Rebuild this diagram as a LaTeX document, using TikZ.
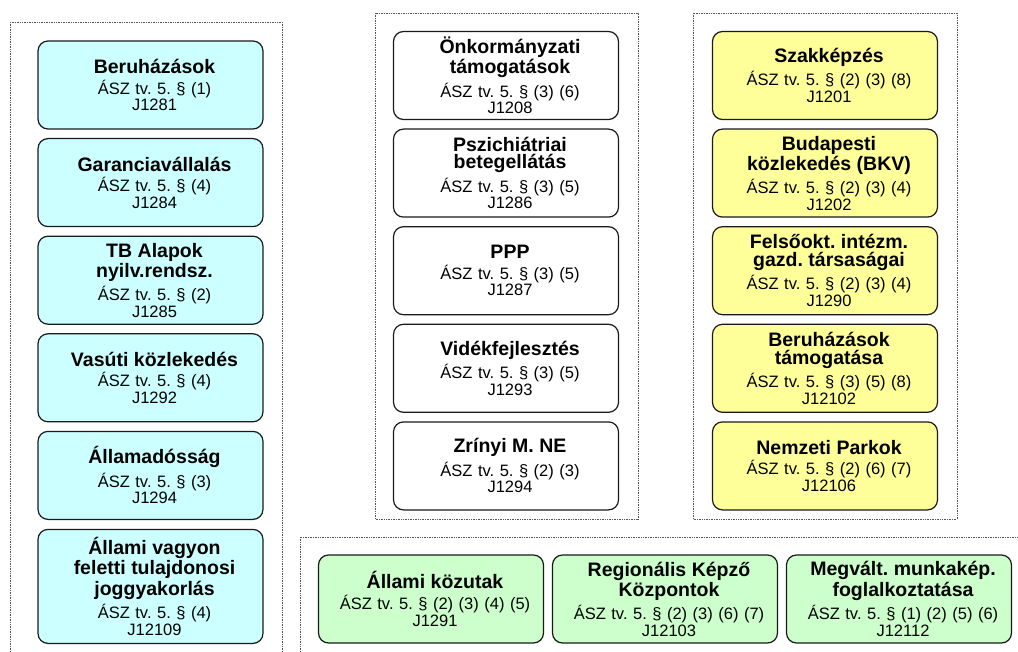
\documentclass[tikz,border=0pt]{standalone}
\usepackage{fontspec}
\setmainfont{Liberation Sans}
\usetikzlibrary{positioning}

\definecolor{cyanbox}{HTML}{CCFFFF}
\definecolor{yellowbox}{HTML}{FFFF99}
\definecolor{greenbox}{HTML}{CCFFCC}
\definecolor{frameline}{HTML}{1A1A1A}
\definecolor{dotline}{HTML}{555555}

\frenchspacing
\newcommand{\ttl}[1]{{\bfseries\fontsize{19.5}{19.5}\selectfont #1}}

\tikzset{
  entry/.style={draw=frameline, line width=1.2pt, rounded corners=10pt,
    minimum width=225pt, minimum height=88pt, text width=217pt,
    inner xsep=4pt, inner ysep=0pt, align=center,
    font=\fontsize{16.5}{16.7}\selectfont,
    execute at begin node={\leftskip=8pt plus 1fil\relax
      \rightskip=0pt plus 1fil\relax\parfillskip=0pt\relax}},
  group/.style={draw=dotline, densely dotted, line width=0.7pt},
}

\begin{document}
\begin{tikzpicture}[x=1pt, y=-1pt, node distance=97.6pt, on grid]
    \useasboundingbox (0,0) rectangle (1018,652);

    % dotted groups
    \draw[group] (10,22) rectangle (282,670);
    \draw[group] (375,13) rectangle (638,519);
    \draw[group] (693,13) rectangle (957,519);
    \draw[group] (300,537) rectangle (1040,670);

    % left column
    \node[entry, fill=cyanbox] (l1) at (150.5,85)
        {\ttl{Beruházások}\\[3.9pt] ÁSZ tv. 5. § (1)\\ J1281};
    \node[entry, fill=cyanbox, below=of l1] (l2)
        {\ttl{Garanciavállalás}\\[3.9pt] ÁSZ tv. 5. § (4)\\ J1284};
    \node[entry, fill=cyanbox, below=of l2] (l3)
        {\ttl{TB Alapok}\\[0.8pt] \ttl{nyilv.rendsz.}\\[3.9pt] ÁSZ tv. 5. § (2)\\ J1285};
    \node[entry, fill=cyanbox, below=of l3] (l4)
        {\ttl{Vasúti közlekedés}\\[3.9pt] ÁSZ tv. 5. § (4)\\ J1292};
    \node[entry, fill=cyanbox, below=of l4] (l5)
        {\ttl{Államadósság}\\[3.9pt] ÁSZ tv. 5. § (3)\\ J1294};
    \node[entry, fill=cyanbox, minimum height=114pt, below=111pt of l5] (l6)
        {\ttl{Állami vagyon}\\[0.8pt] \ttl{feletti tulajdonosi}\\[0.8pt] \ttl{joggyakorlás}\\[3.9pt] ÁSZ tv. 5. § (4)\\ J12109};

    % middle column
    \node[entry, fill=white] (m1) at (506,75.5)
        {\ttl{Önkormányzati}\\[0.8pt] \ttl{támogatások}\\[3.9pt] ÁSZ tv. 5. § (3) (6)\\ J1208};
    \node[entry, fill=white, below=of m1] (m2)
        {\ttl{Pszichiátriai}\\[0.8pt] \ttl{betegellátás}\\[3.9pt] ÁSZ tv. 5. § (3) (5)\\ J1286};
    \node[entry, fill=white, below=of m2] (m3)
        {\ttl{PPP}\\[3.9pt] ÁSZ tv. 5. § (3) (5)\\ J1287};
    \node[entry, fill=white, below=of m3] (m4)
        {\ttl{Vidékfejlesztés}\\[3.9pt] ÁSZ tv. 5. § (3) (5)\\ J1293};
    \node[entry, fill=white, below=of m4] (m5)
        {\ttl{Zrínyi M. NE}\\[3.9pt] ÁSZ tv. 5. § (2) (3)\\ J1294};

    % right column
    \node[entry, fill=yellowbox] (r1) at (825,75.5)
        {\ttl{Szakképzés}\\[3.9pt] ÁSZ tv. 5. § (2) (3) (8)\\ J1201};
    \node[entry, fill=yellowbox, below=of r1] (r2)
        {\ttl{Budapesti}\\[0.8pt] \ttl{közlekedés (BKV)}\\[3.9pt] ÁSZ tv. 5. § (2) (3) (4)\\ J1202};
    \node[entry, fill=yellowbox, below=of r2] (r3)
        {\ttl{Felsőokt. intézm.}\\[0.8pt] \ttl{gazd. társaságai}\\[3.9pt] ÁSZ tv. 5. § (2) (3) (4)\\ J1290};
    \node[entry, fill=yellowbox, below=of r3] (r4)
        {\ttl{Beruházások}\\[0.8pt] \ttl{támogatása}\\[3.9pt] ÁSZ tv. 5. § (3) (5) (8)\\ J12102};
    \node[entry, fill=yellowbox, below=of r4] (r5)
        {\ttl{Nemzeti Parkok}\\[3.9pt] ÁSZ tv. 5. § (2) (6) (7)\\ J12106};

    % bottom row
    \node[entry, fill=greenbox] (b1) at (431,599)
        {\ttl{Állami közutak}\\[3.9pt] ÁSZ tv. 5. § (2) (3) (4) (5)\\ J1291};
    \node[entry, fill=greenbox, right=234pt of b1] (b2)
        {\ttl{Regionális Képző}\\[0.8pt] \ttl{Központok}\\[3.9pt] ÁSZ tv. 5. § (2) (3) (6) (7)\\ J12103};
    \node[entry, fill=greenbox, right=234pt of b2] (b3)
        {\ttl{Megvált. munkakép.}\\[0.8pt] \ttl{foglalkoztatása}\\[3.9pt] ÁSZ tv. 5. § (1) (2) (5) (6)\\ J12112};
\end{tikzpicture}
\end{document}
